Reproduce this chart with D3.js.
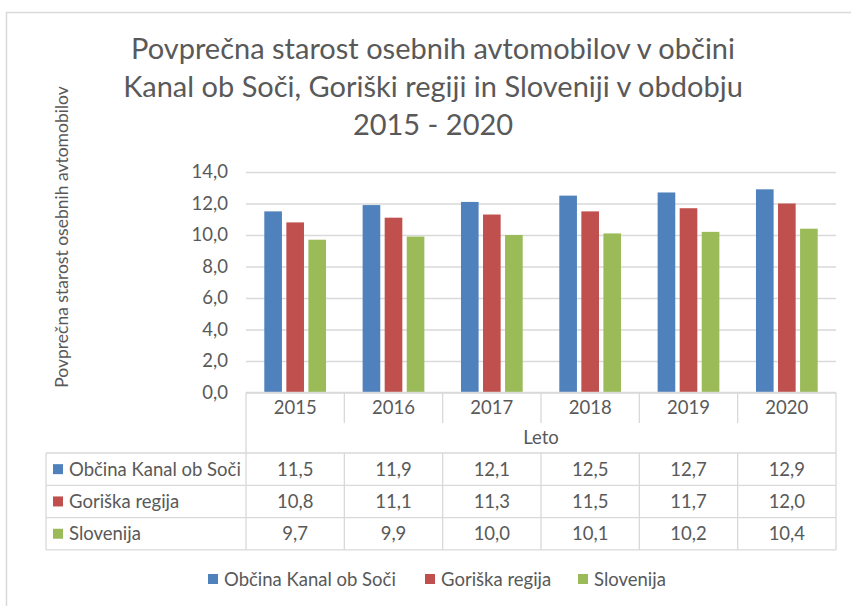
<!DOCTYPE html>
<html>
<head>
<meta charset="utf-8">
<script src="https://d3js.org/d3.v7.min.js"></script>
<style>
  body { margin: 0; background: #fff; }
  text { font-family: Lato, "Open Sans", sans-serif; fill: #595959; }
  .grid line { stroke: #d9d9d9; stroke-width: 1.3; }
  .grid path { display: none; }
  .tbl { stroke: #d9d9d9; stroke-width: 1.3; fill: none; }
</style>
</head>
<body>
<svg width="851" height="606"></svg>
<script>
// data
var years = ["2015", "2016", "2017", "2018", "2019", "2020"];
var seriesNames = ["Občina Kanal ob Soči", "Goriška regija", "Slovenija"];
var kanal = [11.5, 11.9, 12.1, 12.5, 12.7, 12.9];
var goriska = [10.8, 11.1, 11.3, 11.5, 11.7, 12.0];
var slovenija = [9.7, 9.9, 10.0, 10.1, 10.2, 10.4];
var yTicks = [0, 2, 4, 6, 8, 10, 12, 14];
var colors = ["#4f81bd", "#c0504d", "#9bbb59"];

var allSeries = [kanal, goriska, slovenija];

var svg = d3.select("svg");
var fmt = d3.formatLocale({decimal: ",", thousands: ".", grouping: [3], currency: ["", "€"]}).format(".1f");
var fs = "18.5px";

// outer chart border (only top + left visible, cropped)
svg.append("rect")
   .attr("x", 6.5).attr("y", 12.5)
   .attr("width", 900).attr("height", 700)
   .attr("fill", "none").attr("stroke", "#d9d9d9").attr("stroke-width", 1.5);

// title
var title = ["Povprečna starost osebnih avtomobilov v občini",
             "Kanal ob Soči, Goriški regiji in Sloveniji v obdobju",
             "2015 - 2020"];
svg.append("g").selectAll("text")
   .data(title).enter().append("text")
   .attr("x", 433)
   .attr("y", function(d, i) { return 59 + i * 38; })
   .attr("text-anchor", "middle")
   .attr("font-size", "29px")
   .text(function(d) { return d; });

var plot = {left: 246, right: 836, top: 172, bottom: 392.5};

var x = d3.scaleBand().domain(years).range([plot.left, plot.right]);
var x1 = d3.scaleBand().domain(d3.range(3)).range([0, x.bandwidth()])
           .paddingInner(0.2).paddingOuter(0.83);
var y = d3.scaleLinear().domain([0, 14]).range([plot.bottom, plot.top]);

// gridlines + y tick labels
var grid = svg.append("g")
   .attr("class", "grid")
   .attr("transform", "translate(" + plot.left + ",0)")
   .call(d3.axisLeft(y).tickValues(yTicks).tickFormat(fmt)
         .tickSize(-(plot.right - plot.left)).tickPadding(18));
grid.selectAll("text").attr("font-size", fs).attr("fill", "#595959");

// bars
var groups = svg.append("g").selectAll("g")
   .data(years).enter().append("g")
   .attr("transform", function(d) { return "translate(" + x(d) + ",0)"; });

groups.selectAll("rect")
   .data(function(d, i) { return allSeries.map(function(s, k) { return {k: k, v: s[i]}; }); })
   .enter().append("rect")
   .attr("x", function(d) { return x1(d.k); })
   .attr("width", x1.bandwidth())
   .attr("y", function(d) { return y(d.v); })
   .attr("height", function(d) { return plot.bottom - y(d.v); })
   .attr("fill", function(d) { return colors[d.k]; });

// data table
var rowTop = 453, rowH = 32.3, tblLeft = 46;
var tbl = svg.append("g");

// header row: year cells
tbl.append("line").attr("class", "tbl")
   .attr("x1", plot.left).attr("x2", plot.right).attr("y1", plot.bottom).attr("y2", plot.bottom);
tbl.selectAll(".sep").data(years.slice(1)).enter().append("line")
   .attr("class", "tbl")
   .attr("x1", function(d) { return x(d); }).attr("x2", function(d) { return x(d); })
   .attr("y1", plot.bottom).attr("y2", 423);
tbl.selectAll(".yr").data(years).enter().append("text")
   .attr("x", function(d) { return x(d) + x.bandwidth() / 2; })
   .attr("y", 414)
   .attr("text-anchor", "middle")
   .attr("font-size", fs)
   .text(function(d) { return d; });

tbl.append("text")
   .attr("x", (plot.left + plot.right) / 2)
   .attr("y", 444)
   .attr("text-anchor", "middle")
   .attr("font-size", fs)
   .text("Leto");

var tblBottom = rowTop + rowH * 3;
// outer verticals
tbl.append("line").attr("class", "tbl")
   .attr("x1", plot.left).attr("x2", plot.left).attr("y1", plot.bottom).attr("y2", tblBottom);
tbl.append("line").attr("class", "tbl")
   .attr("x1", plot.right).attr("x2", plot.right).attr("y1", plot.bottom).attr("y2", tblBottom);
tbl.append("line").attr("class", "tbl")
   .attr("x1", tblLeft).attr("x2", tblLeft).attr("y1", rowTop).attr("y2", tblBottom);
tbl.selectAll(".sep2").data(years.slice(1)).enter().append("line")
   .attr("class", "tbl")
   .attr("x1", function(d) { return x(d); }).attr("x2", function(d) { return x(d); })
   .attr("y1", rowTop).attr("y2", tblBottom);
tbl.selectAll(".hl").data(d3.range(4)).enter().append("line")
   .attr("class", "tbl")
   .attr("x1", tblLeft).attr("x2", plot.right)
   .attr("y1", function(d) { return rowTop + d * rowH; })
   .attr("y2", function(d) { return rowTop + d * rowH; });

var rows = tbl.selectAll(".row").data(seriesNames).enter().append("g")
   .attr("transform", function(d, i) { return "translate(0," + (rowTop + i * rowH) + ")"; });
rows.append("rect")
   .attr("x", 53).attr("y", rowH / 2 - 5).attr("width", 10).attr("height", 10)
   .attr("fill", function(d, i) { return colors[i]; });
rows.append("text")
   .attr("x", 69).attr("y", rowH / 2 + 6.5)
   .attr("font-size", fs)
   .text(function(d) { return d; });
rows.each(function(d, i) {
  d3.select(this).selectAll(".v").data(allSeries[i]).enter().append("text")
    .attr("x", function(v, j) { return x(years[j]) + x.bandwidth() / 2; })
    .attr("y", rowH / 2 + 6.5)
    .attr("text-anchor", "middle")
    .attr("font-size", fs)
    .text(function(v) { return fmt(v); });
});

// y axis title
svg.append("text")
   .attr("transform", "translate(68,237) rotate(-90)")
   .attr("text-anchor", "middle")
   .attr("font-size", "17.5px")
   .text("Povprečna starost osebnih avtomobilov");

// legend
var legendX = [208, 425, 578];
var leg = svg.append("g").selectAll("g")
   .data(seriesNames).enter().append("g")
   .attr("transform", function(d, i) { return "translate(" + legendX[i] + ",579)"; });
leg.append("rect").attr("x", 0).attr("y", -5).attr("width", 10).attr("height", 10)
   .attr("fill", function(d, i) { return colors[i]; });
leg.append("text").attr("x", 16).attr("y", 6.5)
   .attr("font-size", fs)
   .text(function(d) { return d; });
</script>
</body>
</html>
